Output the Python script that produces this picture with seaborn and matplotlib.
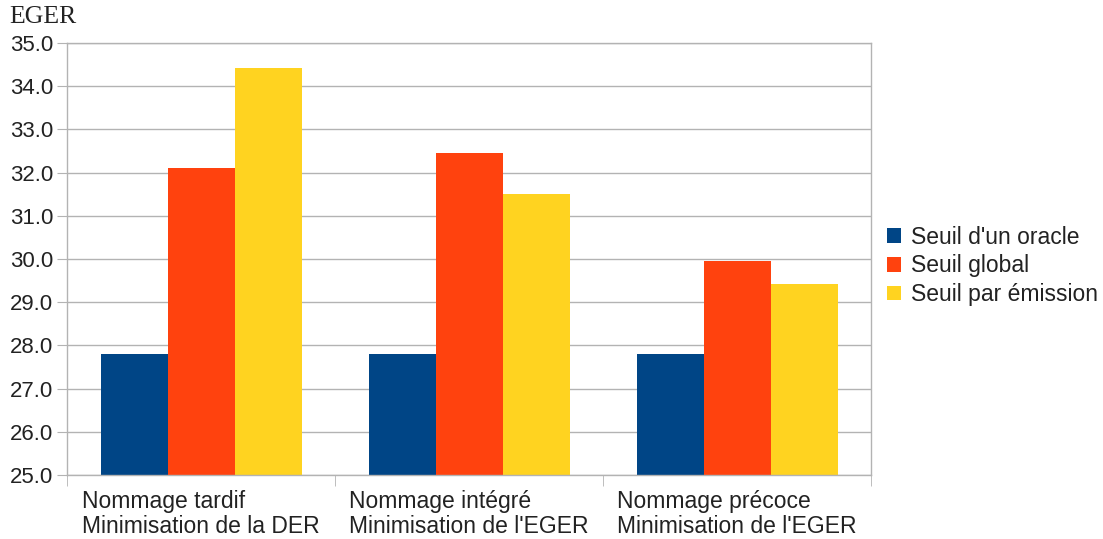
import matplotlib
matplotlib.use("Agg")
import matplotlib.pyplot as plt
import seaborn as sns
import pandas as pd
from matplotlib.patches import Patch

categories = ["Nommage tardif\nMinimisation de la DER",
              "Nommage intégré\nMinimisation de l'EGER",
              "Nommage précoce\nMinimisation de l'EGER"]
series = ["Seuil d'un oracle", "Seuil global", "Seuil par émission"]
oracle = [27.8, 27.8, 27.8]
global_ = [32.11, 32.45, 29.96]
emission = [34.43, 31.51, 29.43]
colors = ["#004586", "#ff420e", "#ffd320"]

rows = []
for s, vals in zip(series, [oracle, global_, emission]):
    for c, v in zip(categories, vals):
        rows.append({"cat": c, "series": s, "val": v})
df = pd.DataFrame(rows)

sns.set_style("white")
plt.rcParams['font.family'] = ['Liberation Sans', 'DejaVu Sans']

fig = plt.figure(figsize=(11.03, 5.39), dpi=100)
ax = fig.add_axes([67/1103, 1-475/539, (871-67)/1103, (475-43)/539])

sns.barplot(data=df, x="cat", y="val", hue="series", order=categories,
            hue_order=series, palette=colors, width=0.75, ax=ax,
            saturation=1, edgecolor="none", linewidth=0, errorbar=None,
            legend=False)

grid_c = "#b3b3b3"
ax.set_ylim(25, 35)
ax.set_xlim(-0.5, 2.5)
ax.set_yticks([25 + i for i in range(11)])
ax.set_yticklabels([f"{25 + i:.1f}" for i in range(11)])
ax.yaxis.grid(True, color=grid_c, linewidth=1)
ax.set_axisbelow(True)
ax.set_xlabel("")
ax.set_ylabel("")
for sp in ax.spines.values():
    sp.set_color(grid_c)
    sp.set_linewidth(1)

ax.tick_params(axis="y", left=True, length=7, color=grid_c, labelsize=16,
               labelcolor="#222222", pad=3)
ax.tick_params(axis="x", which="major", length=0, labelsize=16.5,
               labelcolor="#222222", pad=11)
ax.set_xticks([-0.5, 0.5, 1.5, 2.5], minor=True)
ax.tick_params(axis="x", which="minor", length=8, color=grid_c, bottom=True)
for lbl in ax.get_xticklabels():
    lbl.set_multialignment("left")
    lbl.set_linespacing(1.1)

fig.text(9/1103, 1-17/539, "EGER", family="Liberation Serif", fontsize=18.5,
         color="#222222", va="center", ha="left")

handles = [Patch(facecolor=c, edgecolor="none") for c in colors]
fig.legend(handles, series, loc="center left",
           bbox_to_anchor=(880/1103, 1-266/539), frameon=False,
           fontsize=16.5, handlelength=0.6, handleheight=0.6,
           handletextpad=0.45, labelspacing=0.25, labelcolor="#222222",
           borderaxespad=0, borderpad=0.3)

fig.savefig("out.png", dpi=100)
